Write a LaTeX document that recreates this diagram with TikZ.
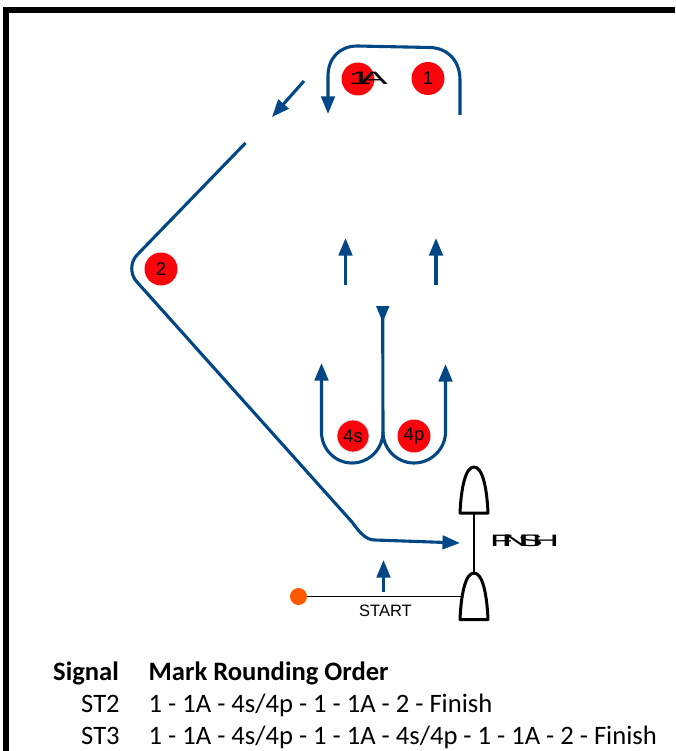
\documentclass[tikz,border=0pt]{standalone}
\usepackage{fontspec}
\setmainfont{Liberation Sans}
\newfontfamily\tablefont{Carlito}
\usetikzlibrary{arrows.meta}
\definecolor{route}{HTML}{024785}
\definecolor{markred}{HTML}{F8060C}
\tikzset{
 x=1pt,y=-1pt,
 routeline/.style={draw=route,line width=3.1pt,line join=round},
 arrowed/.style={routeline,-{Triangle[length=17.5pt,width=13.5pt]}},
 rmark/.style={circle,fill=markred,minimum size=33pt,inner sep=0pt,font=\fontsize{18.5}{20}\selectfont,text=black},
 boat/.style={draw=black,line width=3pt,fill=white,line join=round},
 blackline/.style={draw=black,line width=1.5pt},
 tabletext/.style={font=\tablefont\fontsize{26.6}{30}\selectfont,inner sep=0pt,anchor=base west},
 tablehead/.style={tabletext,font=\tablefont\bfseries\fontsize{26.6}{30}\selectfont},
}
\begin{document}
\begin{tikzpicture}
\useasboundingbox (0,0) rectangle (675,751);
\fill[black] (3,7) rectangle (9,751);
\fill[black] (3,7) rectangle (675,13);
% marks
\node[rmark] (m1A) at (358,79) {};
\node[rmark] (m1) at (428,78.5) {1};
\node[rmark] (m2) at (161,269) {2};
\node[rmark,draw=black!15,line width=0.8pt,minimum size=32pt] (m4s) at (353,436) {4s};
\node[rmark] (m4p) at (414,436) {4p};
\node[font=\fontsize{18}{20}\selectfont,inner sep=0pt] (t1A) at (368,78.5) {\scalebox{2.4}[1]{\addfontfeature{LetterSpace=-30}1A}};
% top route
\coordinate (a0) at (460,115);
\coordinate (a1) at (328,114);
\draw[arrowed] (a0) -- (460,80) .. controls (460,60) and (447,48) .. (430,47.5) -- (357,46) .. controls (340,46) and (328,58) .. (328,76) -- (a1);
\coordinate (b0) at (304,81);
\coordinate (b1) at (272,117);
\draw[arrowed] (b0) -- (b1);
% long route
\coordinate (c0) at (245.5,143);
\coordinate (c1) at (460,543);
\draw[arrowed] (c0) -- (137,255) .. controls (130,262) and (130,275) .. (137,282) -- (352,522) .. controls (360,533) and (366,540) .. (375,540) -- (c1);
% mid arrows
\coordinate (d0) at (345.5,285);
\coordinate (d1) at (345.5,238);
\coordinate (e0) at (436,285);
\coordinate (e1) at (436,238);
\draw[arrowed] (d0) -- (d1);
\draw[arrowed] (e0) -- (e1);
% U turns
\coordinate (f1) at (321.5,363);
\coordinate (g1) at (445.5,364);
\draw[arrowed] (383,432) .. controls (383,449) and (369,463) .. (352,463) .. controls (335,463) and (321.5,449) .. (321.5,432) -- (f1);
\draw[arrowed] (383,432) .. controls (383,449) and (397,463) .. (414,463) .. controls (431,463) and (445.5,449) .. (445.5,432) -- (g1);
\draw[routeline] (383,432) -- (382.7,318);
\fill[route] (376,306) -- (389.5,306) -- (382.7,322) -- cycle;
% boats
\coordinate (bt1) at (474,513);
\coordinate (bt2) at (474,573);
\draw[blackline] (bt1) -- (bt2);
\node[circle,fill=orange!70!red,minimum size=17pt,inner sep=0pt] (pin) at (298.5,596.5) {};
\coordinate (sb) at (463,596.5);
\draw[blackline] (pin) -- (sb);
\path[boat] (460,513) .. controls (461,490) and (465,467) .. (474,467) .. controls (483,467) and (487,490) .. (488,513) -- cycle;
\path[boat] (460,619.5) .. controls (461,596) and (465,573) .. (474,573) .. controls (483,573) and (487,596) .. (488,619.5) -- cycle;
% start arrow
\coordinate (s0) at (383.5,592);
\coordinate (s1) at (383.5,560);
\draw[arrowed] (s0) -- (s1);
\node[font=\fontsize{16.5}{18}\selectfont,inner sep=0pt] (start) at (385.5,610.5) {START};
\node[font=\fontsize{16.5}{18}\selectfont,inner sep=0pt] (finish) at (524.5,540.5) {\scalebox{2.3}[1]{\addfontfeature{LetterSpace=-29}FINISH}};
% table
\node[tablehead] (h1t) at (53,680) {Signal};
\node[tablehead] (h2t) at (148.5,680) {Mark Rounding Order};
\node[tabletext] (s2) at (81,712) {ST2};
\node[tabletext] (r2) at (148.5,712) {1 - 1A - 4s/4p - 1 - 1A - 2 - Finish};
\node[tabletext] (s3) at (81,744) {ST3};
\node[tabletext] (r3) at (148.5,744) {1 - 1A - 4s/4p - 1 - 1A - 4s/4p - 1 - 1A - 2 - Finish};
\end{tikzpicture}
\end{document}
